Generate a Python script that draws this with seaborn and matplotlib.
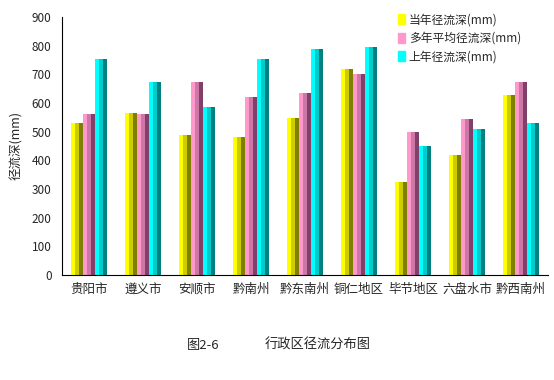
import numpy as np
import pandas as pd
import matplotlib
matplotlib.use('Agg')
import matplotlib.pyplot as plt
import seaborn as sns
from matplotlib.patches import Rectangle

regions = ['贵阳市', '遵义市', '安顺市', '黔南州', '黔东南州', '铜仁地区', '毕节地区', '六盘水市', '黔西南州']
series_names = ['当年径流深(mm)', '多年平均径流深(mm)', '上年径流深(mm)']
dangnian = [530, 565, 490, 480, 548, 720, 325, 418, 628]
duonian = [560, 560, 672, 620, 635, 700, 500, 545, 675]
shangnian = [752, 672, 585, 752, 790, 795, 450, 508, 530]

sns.set_style('white')
plt.rcParams['font.family'] = ['Noto Sans CJK SC', 'DejaVu Sans']
plt.rcParams['axes.unicode_minus'] = False

df = pd.DataFrame({'地区': regions * 3,
                   '系列': [series_names[0]] * 9 + [series_names[1]] * 9 + [series_names[2]] * 9,
                   '径流深': dangnian + duonian + shangnian})

light = ['#FFFF00', '#FF99CC', '#00FFFF']
mid = ['#CCCC00', '#CC77A6', '#00CCCC']
dark = ['#808000', '#80406A', '#008080']

fig = plt.figure(figsize=(5.54, 3.8), dpi=100)
ax = fig.add_axes([62 / 554, 1 - 275 / 380, 486 / 554, 258 / 380])

sns.barplot(data=df, x='地区', y='径流深', hue='系列', palette=light,
            width=0.66, gap=0, ax=ax, linewidth=0, saturation=1)

# fake 3D shading stripes on each bar
for k, cont in enumerate(ax.containers):
    for p in cont.patches:
        x0, w, h = p.get_x(), p.get_width(), p.get_height()
        ax.add_patch(Rectangle((x0 + w * 0.3, 0), w * 0.4, h, color=mid[k], lw=0, zorder=p.get_zorder() + 0.1))
        ax.add_patch(Rectangle((x0 + w * 0.7, 0), w * 0.3, h, color=dark[k], lw=0, zorder=p.get_zorder() + 0.1))

ax.set_ylim(0, 900)
ax.set_yticks(np.arange(0, 901, 100))
ax.set_xlim(-0.5, len(regions) - 0.5)
ax.set_xticks(np.arange(len(regions)))
ax.set_xticklabels(regions, fontsize=9)
ax.set_xticks(np.arange(len(regions) + 1) - 0.5, minor=True)
ax.tick_params(axis='x', which='major', length=0, pad=6)
ax.tick_params(axis='x', which='minor', length=4, direction='out', width=0.8)
ax.tick_params(axis='y', length=4, direction='out', width=0.8, labelsize=8.5)
ax.set_xlabel('')
ax.set_ylabel('径流深(mm)', fontsize=9, labelpad=6)
for s in ['top', 'right']:
    ax.spines[s].set_visible(False)
for s in ['left', 'bottom']:
    ax.spines[s].set_color('black')
    ax.spines[s].set_linewidth(0.8)

handles = [Rectangle((0, 0), 1, 1, color=c) for c in light]
ax.legend(handles, series_names, loc='upper left', bbox_to_anchor=(0.67, 1.055),
          frameon=False, fontsize=8.5, handlelength=0.6, handleheight=0.9,
          handletextpad=0.3, labelspacing=0.45)

fig.text(187 / 554, 1 - 345 / 380, '图2-6', fontsize=9.5, va='center', ha='left')
fig.text(265 / 554, 1 - 345 / 380, '行政区径流分布图', fontsize=9.5, va='center', ha='left')

fig.savefig('out.png', dpi=100)
